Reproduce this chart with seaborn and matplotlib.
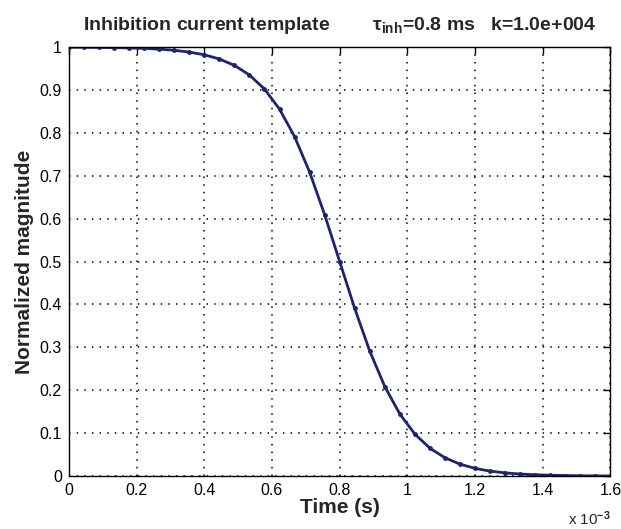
import numpy as np
import pandas as pd
import matplotlib
matplotlib.use("Agg")
import matplotlib.pyplot as plt
import seaborn as sns

# time samples (s), evenly spaced from 0 to 1.6 ms
time_s = np.linspace(0, 1.6e-3, 37)

# normalized magnitude
magnitude = [
    0.9997, 0.9995, 0.9992, 0.9987, 0.9980, 0.9969, 0.9952, 0.9925,
    0.9884, 0.9820, 0.9722, 0.9574, 0.9350, 0.9022, 0.8554, 0.7914,
    0.7087, 0.6093, 0.5000, 0.3907, 0.2913, 0.2086, 0.1446, 0.0978,
    0.0650, 0.0427, 0.0278, 0.0180, 0.0116, 0.0075, 0.0048, 0.0031,
    0.0020, 0.0013, 0.0008, 0.0005, 0.0003,
]

x_ticks = [0, 0.2e-3, 0.4e-3, 0.6e-3, 0.8e-3, 1.0e-3, 1.2e-3, 1.4e-3, 1.6e-3]
x_labels = ["0", "0.2", "0.4", "0.6", "0.8", "1", "1.2", "1.4", "1.6"]
y_ticks = [0, 0.1, 0.2, 0.3, 0.4, 0.5, 0.6, 0.7, 0.8, 0.9, 1]
y_labels = ["0", "0.1", "0.2", "0.3", "0.4", "0.5", "0.6", "0.7", "0.8", "0.9", "1"]

df = pd.DataFrame({"t": time_s, "mag": magnitude})

sns.set_style("white")
plt.rcParams["font.family"] = ["Liberation Sans", "DejaVu Sans"]
plt.rcParams["mathtext.fontset"] = "custom"
plt.rcParams["mathtext.rm"] = "Liberation Sans:bold"
plt.rcParams["mathtext.it"] = "Liberation Sans:bold"
plt.rcParams["mathtext.default"] = "rm"

fig = plt.figure(figsize=(6.21, 5.29), dpi=100)
ax = fig.add_axes([0.111, 0.100, 0.872, 0.811])

sns.lineplot(data=df, x="t", y="mag", ax=ax, color="#1f246e", linewidth=2.0,
             marker="o", markersize=3.5, markeredgewidth=0, markerfacecolor="#1f246e")

ax.set_xlim(0, 1.6e-3)
ax.set_ylim(0, 1)
ax.set_xticks(x_ticks)
ax.set_xticklabels(x_labels, fontsize=11.5)
ax.set_yticks(y_ticks)
ax.set_yticklabels(y_labels, fontsize=11.5)

ax.grid(True, linestyle=(0, (1, 4)), color="black", linewidth=1.1)
for s in ax.spines.values():
    s.set_color("black")
    s.set_linewidth(1.0)
ax.tick_params(direction="in", length=5, width=1, top=True, right=True,
               colors="black", pad=5)

ax.set_xlabel("Time (s)", fontsize=15, fontweight="bold", labelpad=0)
ax.set_ylabel("Normalized magnitude", fontsize=15, fontweight="bold", labelpad=4)
ax.set_title(r"Inhibition current template        $\tau_{inh}$=0.8 ms   k=1.0e+004",
             fontsize=14, fontweight="bold", pad=12)
ax.text(1.0, -0.1, r"x 10$^{-3}$", transform=ax.transAxes, ha="right", va="center",
        fontsize=11)

fig.savefig("out.png", dpi=100)
